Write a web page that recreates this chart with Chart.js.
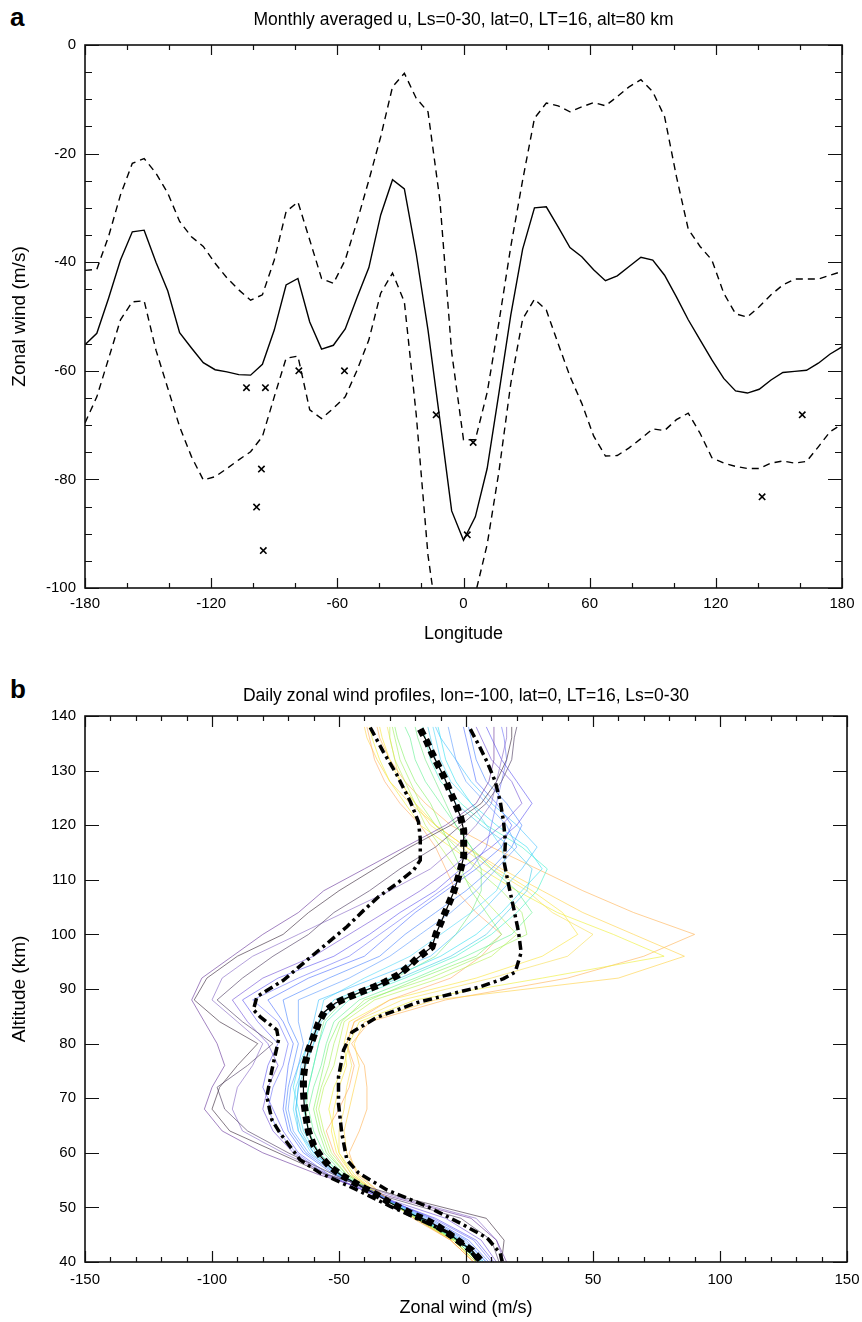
<!DOCTYPE html>
<html><head><meta charset="utf-8">
<script src="https://cdn.jsdelivr.net/npm/chart.js@4.4.1/dist/chart.umd.min.js"></script>
<style>
html,body{margin:0;padding:0;background:#fff;}
body{width:862px;height:1322px;position:relative;overflow:hidden;font-family:"Liberation Sans",Arial,sans-serif;}
.lbl{position:absolute;font-weight:bold;font-size:26px;line-height:26px;color:#000;}
#wa{position:absolute;left:0;top:0;width:862px;height:650px;}
#wb{position:absolute;left:0;top:650px;width:862px;height:672px;}
</style></head><body>
<div class="lbl" style="left:10px;top:4px">a</div>
<div class="lbl" style="left:10px;top:676px">b</div>
<div id="wa"><canvas id="ca"></canvas></div>
<div id="wb"><canvas id="cb"></canvas></div>
<script>
const F = "'Liberation Sans', Arial, sans-serif";

// ---------- Panel a data ----------
const lonA = [-180,-174.375,-168.75,-163.125,-157.5,-151.875,-146.25,-140.625,-135,-129.375,-123.75,-118.125,-112.5,-106.875,-101.25,-95.625,-90,-84.375,-78.75,-73.125,-67.5,-61.875,-56.25,-50.625,-45,-39.375,-33.75,-28.125,-22.5,-16.875,-11.25,-5.625,0,5.625,11.25,16.875,22.5,28.125,33.75,39.375,45,50.625,56.25,61.875,67.5,73.125,78.75,84.375,90,95.625,101.25,106.875,112.5,118.125,123.75,129.375,135,140.625,146.25,151.875,157.5,163.125,168.75,174.375,180];
const meanU = [-55.2,-53.1,-46.6,-39.6,-34.4,-34.1,-40.0,-45.3,-53.0,-55.8,-58.5,-59.8,-60.2,-60.7,-60.8,-58.8,-52.5,-44.2,-43.0,-51.0,-56.0,-55.3,-52.3,-46.5,-41.0,-31.3,-24.8,-26.5,-38.4,-52.5,-69.0,-85.8,-91.2,-86.9,-78.0,-64.0,-49.7,-37.6,-30.0,-29.8,-33.5,-37.3,-39.0,-41.4,-43.4,-42.5,-40.8,-39.1,-39.6,-42.4,-46.4,-50.6,-54.3,-58.0,-61.4,-63.7,-64.1,-63.4,-61.7,-60.3,-60.1,-59.9,-58.6,-56.9,-55.6];
const upperU = [-41.5,-41.3,-35.2,-27.6,-21.8,-20.9,-23.6,-27.3,-32.5,-35.3,-37.1,-40.2,-42.9,-45.1,-47.0,-46.0,-39.6,-30.7,-28.9,-35.9,-43.0,-43.9,-39.6,-32.5,-24.9,-16.9,-7.7,-5.2,-9.8,-12.3,-28.5,-56.6,-72.7,-72.7,-64.0,-51.0,-37.1,-24.9,-13.5,-10.7,-11.2,-12.3,-11.4,-10.6,-11.2,-9.5,-7.7,-6.4,-8.6,-13.2,-24.2,-33.9,-37.1,-39.6,-45.7,-49.5,-50.1,-48.2,-46.0,-44.2,-43.1,-43.1,-43.1,-42.4,-41.7];
const lowerU = [-69.6,-64.8,-57.7,-50.6,-47.3,-47.1,-56.2,-63.2,-70.3,-75.8,-80.1,-79.5,-78.0,-76.4,-74.9,-72.1,-64.8,-57.7,-57.3,-67.2,-68.8,-66.9,-64.8,-59.9,-54.3,-45.7,-42.0,-47.3,-68.0,-94.0,-109.5,-115.0,-109.7,-101.1,-92.0,-78.5,-62.3,-50.5,-46.8,-48.8,-55.0,-61.0,-66.0,-72.0,-75.7,-75.6,-74.2,-72.5,-70.7,-71.0,-69.0,-67.8,-71.5,-76.0,-77.0,-77.6,-78.0,-78.0,-77.0,-76.6,-77.0,-76.7,-74.0,-71.2,-69.8];
const obsLon = [-103.2,-94.2,-78.3,-56.6,-96.1,-98.4,-95.2,-13.0,1.8,4.6,142.0,161.1];
const obsU   = [-63.1,-63.1,-60.0,-60.0,-78.1,-85.1,-93.1,-68.1,-90.2,-73.2,-83.2,-68.1];
const xTicksA = [-180,-120,-60,0,60,120,180];
const yTicksA = [-100,-80,-60,-40,-20,0];

// ---------- Panel b data ----------
const meanWind = [-18.0,-15.4,-13.4,-11.0,-8.4,-6.2,-4.2,-2.2,-0.9,-0.9,-0.9,-2.2,-3.5,-5.1,-7.5,-9.5,-11.7,-13.4,-19.3,-22.6,-26.6,-31.8,-36.6,-41.6,-46.3,-51.5,-55.8,-58.1,-60.0,-62.0,-63.3,-64.0,-64.0,-63.7,-62.9,-62.0,-60.0,-57.1,-53.7,-49.1,-44.5,-40.0,-35.1,-30.5,-25.5,-20.6,-15.6,-11.0,-5.9,-1.6,2.4,5.6];
const meanAlt  = [137.6,135.3,133.2,131.0,128.6,126.1,124.0,121.6,119.1,116.7,114.2,111.8,109.7,107.5,104.8,102.6,100.2,97.7,95.6,94.1,92.6,91.3,90.3,89.4,88.5,87.4,85.8,83.7,81.3,78.8,76.4,73.8,71.3,68.8,66.3,63.9,61.4,59.3,57.5,55.9,54.7,53.5,52.3,51.0,49.8,48.6,47.7,46.5,44.9,43.4,42.1,40.4];
const leftWind = [-37.7,-32.5,-27.2,-21.9,-18.7,-18.0,-18.0,-20.6,-27.2,-34.4,-40.3,-46.9,-54.8,-62.6,-71.9,-82.3,-83.7,-81.0,-74.5,-73.8,-76.4,-78.4,-76.4,-73.2,-65.3,-57.4,-42.9,-29.8,-18.0,-7.5,0.4,4.3];
const leftAlt  = [137.9,133.4,129.2,124.3,120.6,117.5,113.6,111.8,109.3,106.9,104.4,101.4,98.3,95.3,91.6,88.6,86.2,84.9,82.5,80.7,75.2,70.3,66.0,63.6,58.7,56.3,53.2,50.2,47.7,45.5,42.8,40.4];
const rightWind = [1.7,5.0,8.3,11.5,13.5,14.8,15.5,15.1,16.8,18.8,20.7,21.7,19.4,14.8,5.6,-4.9,-19.3,-35.1,-44.9,-48.2,-50.2,-50.2,-48.9,-46.9,-42.3,-31.1,-15.4,-2.2,8.3,13.5,14.2];
const rightAlt  = [137.6,134.7,131.6,128.0,124.3,120.6,117.0,113.0,109.0,104.7,100.4,96.7,93.1,91.9,90.4,89.2,87.5,84.8,82.1,78.8,73.9,69.0,63.6,58.7,56.3,53.2,50.2,47.1,44.4,41.6,40.1];

const altLevels = [40,44,48,52,56,60,64,68,72,76,80,84,88,92,96,100,104,108,112,116,120,124,128,132,136,138];
const prof01 = [14,15,8,-26,-55,-74,-93,-100,-97,-90,-82,-97,-107,-102,-90,-72,-62,-50,-36,-22,-6,6,12,16,18,18];
const prof02 = [16,12,2,-30,-58,-80,-96,-103,-100,-95,-98,-103,-108,-104,-92,-80,-66,-56,-40,-24,-8,4,9,11,11,11];
const prof03 = [13,10,-2,-32,-52,-70,-86,-95,-98,-86,-76,-88,-98,-88,-76,-62,-52,-38,-26,-12,-2,8,14,18,19,20];
const prof04 = [12,6,-8,-34,-56,-68,-76,-80,-78,-74,-78,-86,-92,-80,-60,-46,-32,-18,-6,4,14,22,18,10,6,4];
const prof05 = [11,4,-12,-35,-54,-66,-72,-76,-80,-78,-74,-82,-88,-74,-52,-38,-26,-12,-2,10,20,26,20,14,10,8];
const prof06 = [9,1,-14,-33,-52,-64,-70,-72,-71,-70,-68,-72,-78,-62,-40,-30,-20,-8,4,14,18,12,4,2,0,-1];
const prof07 = [8,-1,-16,-33,-50,-62,-68,-70,-69,-66,-64,-66,-66,-46,-30,-18,-6,4,12,20,16,8,0,-4,-6,-7];
const prof08 = [7,-2,-17,-33,-50,-60,-66,-67,-66,-65,-62,-60,-58,-36,-14,-4,6,14,22,28,20,10,2,-4,-10,-12];
const prof09 = [6,-3,-18,-34,-50,-59,-64,-66,-68,-66,-62,-58,-52,-30,-10,4,14,22,30,24,12,2,-4,-8,-10,-11];
const prof10 = [6,-3,-18,-34,-49,-58,-62,-64,-62,-60,-58,-55,-46,-24,-4,10,20,28,32,22,8,-2,-10,-14,-16,-17];
const prof11 = [5,-4,-19,-34,-48,-56,-60,-62,-60,-57,-55,-52,-42,-20,0,18,26,20,10,2,-4,-10,-16,-20,-22,-24];
const prof12 = [5,-4,-19,-33,-47,-55,-58,-60,-58,-56,-54,-50,-38,-18,4,14,8,2,-2,-6,-10,-14,-20,-24,-27,-28];
const prof13 = [4,-5,-20,-34,-46,-53,-56,-58,-56,-52,-50,-48,-36,-10,10,20,12,4,-4,-10,-16,-20,-24,-28,-30,-30];
const prof14 = [4,-5,-20,-33,-44,-50,-52,-54,-52,-48,-46,-42,-20,30,78,58,36,20,6,-6,-18,-24,-30,-34,-37,-38];
const prof15 = [3,-6,-20,-32,-42,-47,-48,-46,-44,-42,-44,-40,-12,60,86,66,46,30,14,0,-12,-22,-30,-35,-39,-40];
const prof16 = [3,-6,-21,-32,-43,-46,-42,-39,-39,-40,-45,-38,-8,40,70,90,66,46,28,10,-6,-16,-24,-30,-34,-35];
const prof17 = [4,-5,-19,-33,-45,-50,-50,-48,-47,-45,-47,-44,-25,10,40,50,34,24,10,-2,-14,-20,-26,-28,-30,-31];
const prof18 = [3,-6,-20,-33,-46,-52,-55,-50,-46,-44,-47,-44,-30,-6,6,14,4,-4,-8,-12,-18,-26,-32,-36,-38,-39];
const prof19 = [10,3,-13,-34,-55,-67,-74,-78,-76,-72,-70,-74,-84,-66,-46,-34,-22,-10,2,8,10,12,14,16,15,14];
const prof20 = [7,-2,-17,-33,-51,-61,-66,-68,-67,-64,-60,-58,-56,-40,-22,-10,2,12,16,14,8,2,-6,-10,-12,-13];
const prof21 = [5,-4,-18,-34,-49,-58,-62,-63,-62,-60,-58,-56,-48,-28,-12,-4,2,6,6,2,-4,-8,-12,-16,-19,-20];
const prof22 = [15,12,4,-28,-54,-72,-88,-92,-90,-84,-80,-90,-100,-96,-84,-66,-48,-30,-14,-4,4,10,12,14,16,16];
const prof23 = [6,-3,-18,-34,-50,-60,-65,-67,-66,-63,-60,-57,-50,-26,-6,8,16,24,26,18,6,-4,-8,-12,-14,-15];
const prof24 = [5,-4,-19,-33,-47,-54,-57,-59,-57,-54,-52,-49,-40,-14,6,24,22,14,4,-4,-12,-18,-22,-26,-28,-29];
const prof25 = [8,0,-15,-33,-51,-63,-69,-71,-70,-68,-66,-70,-72,-54,-34,-24,-12,0,10,18,22,16,8,4,2,1];
const prof26 = [4,-5,-20,-33,-45,-51,-53,-52,-50,-47,-48,-46,-30,4,30,44,38,26,12,0,-12,-20,-26,-30,-33,-34];
const profiles = [prof01,prof02,prof03,prof22,prof04,prof05,prof19,prof25,prof06,prof07,prof08,prof20,prof23,prof09,prof10,prof21,prof11,prof12,prof24,prof13,prof18,prof17,prof26,prof14,prof15,prof16];
const profColors = ['rgba(80,64,80,0.7)','rgba(112,64,160,0.65)','rgba(96,80,112,0.7)','rgba(140,110,200,0.65)','rgba(122,90,216,0.65)','rgba(90,80,240,0.6)','rgba(106,112,248,0.6)','rgba(70,130,255,0.6)','rgba(74,106,255,0.6)','rgba(90,154,255,0.6)','rgba(64,192,255,0.6)','rgba(80,216,248,0.6)','rgba(60,200,230,0.6)','rgba(48,224,240,0.6)','rgba(64,240,200,0.6)','rgba(112,232,128,0.6)','rgba(96,240,144,0.6)','rgba(128,240,96,0.6)','rgba(160,240,90,0.6)','rgba(184,240,80,0.6)','rgba(255,168,96,0.6)','rgba(248,224,96,0.65)','rgba(250,230,70,0.65)','rgba(240,240,64,0.65)','rgba(255,208,64,0.6)','rgba(255,176,80,0.6)'];
const xTicksB = [-150,-100,-50,0,50,100,150];
const yTicksB = [40,50,60,70,80,90,100,110,120,130,140];

function pairs(xs, ys){ return xs.map((v,i)=>({x:v, y:ys[i]})); }
function range(a,b,s){ const r=[]; for(let v=a; v<=b+1e-9; v+=s) r.push(v); return r; }

const frameTicks = {
  id:'frameTicks',
  afterDatasetsDraw(chart, args, o){
    const {ctx} = chart; const a = chart.chartArea;
    const xs = chart.scales.x, ys = chart.scales.y;
    ctx.save();
    ctx.strokeStyle = '#111'; ctx.lineWidth = 1.2; ctx.setLineDash([]);
    ctx.beginPath();
    const maj = (arr,v)=>arr.some(m=>Math.abs(m-v)<1e-6);
    o.xAll.forEach(v=>{
      const px = Math.round(xs.getPixelForValue(v))+0.5;
      const L = maj(o.xMaj,v)? o.xMajLen : o.xMinLen;
      ctx.moveTo(px, a.bottom); ctx.lineTo(px, a.bottom-L);
      ctx.moveTo(px, a.top); ctx.lineTo(px, a.top+L);
    });
    o.yAll.forEach(v=>{
      const py = Math.round(ys.getPixelForValue(v))+0.5;
      const L = maj(o.yMaj,v)? o.yMajLen : o.yMinLen;
      ctx.moveTo(a.left, py); ctx.lineTo(a.left+L, py);
      ctx.moveTo(a.right, py); ctx.lineTo(a.right-L, py);
    });
    ctx.stroke();
    ctx.lineWidth = 1.6;
    ctx.strokeRect(a.left, a.top, a.right-a.left, a.bottom-a.top);
    ctx.restore();
  }
};

const tickFont = {family:F, size:15};
const titleFont = {family:F, size:19};

new Chart(document.getElementById('ca'), {
  type:'scatter',
  data:{ datasets:[
    {data:pairs(lonA, meanU), showLine:true, borderColor:'#000', borderWidth:1.4, pointRadius:0, clip:0},
    {data:pairs(lonA, upperU), showLine:true, borderColor:'#000', borderWidth:1.4, borderDash:[7,5], pointRadius:0, clip:0},
    {data:pairs(lonA, lowerU), showLine:true, borderColor:'#000', borderWidth:1.4, borderDash:[7,5], pointRadius:0, clip:0},
    {data:pairs(obsLon, obsU), showLine:false, pointStyle:'crossRot', pointRadius:4.5, borderColor:'#000', borderWidth:1.6, backgroundColor:'#000'}
  ]},
  options:{
    responsive:true, maintainAspectRatio:false, animation:false, events:[],
    layout:{padding:{left:0,right:20,top:0,bottom:0}},
    plugins:{ legend:{display:false}, tooltip:{enabled:false},
      title:{display:true, fullSize:false, text:'Monthly averaged u, Ls=0-30, lat=0, LT=16, alt=80 km', color:'#000', font:{family:F,size:17.5,weight:'normal'}, padding:{top:9.5,bottom:14.5}},
      frameTicks:{xAll:range(-180,180,20), xMaj:xTicksA, xMajLen:10, xMinLen:5, yAll:range(-100,0,5), yMaj:yTicksA, yMajLen:14, yMinLen:7}
    },
    scales:{
      x:{type:'linear', min:-180, max:180, afterBuildTicks:s=>{s.ticks=xTicksA.map(v=>({value:v}));},
        grid:{display:false, drawTicks:false}, border:{display:false},
        ticks:{color:'#000', font:tickFont, padding:7, maxRotation:0, autoSkip:false},
        title:{display:true, text:'Longitude', color:'#000', font:{family:F,size:18}, padding:{top:0,bottom:5}},
        afterFit:s=>{s.height=62; s.paddingRight=0;}},
      y:{type:'linear', min:-100, max:0, afterBuildTicks:s=>{s.ticks=yTicksA.map(v=>({value:v}));},
        grid:{display:false, drawTicks:false}, border:{display:false},
        ticks:{color:'#000', font:tickFont, padding:9, autoSkip:false},
        title:{display:true, text:'Zonal wind (m/s)', color:'#000', font:titleFont, padding:{top:8,bottom:0}},
        afterFit:s=>{s.width=85;}}
    }
  },
  plugins:[frameTicks]
});

const dsB = [
  {data:pairs(meanWind, meanAlt), showLine:true, borderColor:'#000', borderWidth:7, borderDash:[7,5], borderCapStyle:'butt', pointRadius:0, order:0, clip:0},
  {data:pairs(meanWind, meanAlt), showLine:true, borderColor:'#000', borderWidth:1.2, pointRadius:0, order:1, clip:0},
  {data:pairs(leftWind, leftAlt), showLine:true, borderColor:'#000', borderWidth:3.5, borderDash:[9,4,3,4], pointRadius:0, order:1, clip:0},
  {data:pairs(rightWind, rightAlt), showLine:true, borderColor:'#000', borderWidth:3.5, borderDash:[9,4,3,4], pointRadius:0, order:1, clip:0}
];
profiles.forEach((p,i)=>{
  dsB.push({data:pairs(p, altLevels), showLine:true, borderColor:profColors[i], borderWidth:1, pointRadius:0, order:2, clip:0});
});

new Chart(document.getElementById('cb'), {
  type:'scatter',
  data:{datasets:dsB},
  options:{
    responsive:true, maintainAspectRatio:false, animation:false, events:[],
    layout:{padding:{left:0,right:15,top:0,bottom:0}},
    plugins:{ legend:{display:false}, tooltip:{enabled:false},
      title:{display:true, fullSize:false, text:'Daily zonal wind profiles, lon=-100, lat=0, LT=16, Ls=0-30', color:'#000', font:{family:F,size:17.5,weight:'normal'}, padding:{top:36,bottom:9}},
      frameTicks:{xAll:range(-150,150,10), xMaj:xTicksB, xMajLen:11, xMinLen:5, yAll:yTicksB, yMaj:yTicksB, yMajLen:14, yMinLen:7}
    },
    scales:{
      x:{type:'linear', min:-150, max:150, afterBuildTicks:s=>{s.ticks=xTicksB.map(v=>({value:v}));},
        grid:{display:false, drawTicks:false}, border:{display:false},
        ticks:{color:'#000', font:tickFont, padding:9, maxRotation:0, autoSkip:false},
        title:{display:true, text:'Zonal wind (m/s)', color:'#000', font:{family:F,size:18}, padding:{top:0,bottom:3}},
        afterFit:s=>{s.height=60; s.paddingRight=0;}},
      y:{type:'linear', min:40, max:140, afterBuildTicks:s=>{s.ticks=yTicksB.map(v=>({value:v}));},
        grid:{display:false, drawTicks:false}, border:{display:false},
        ticks:{color:'#000', font:tickFont, padding:9, autoSkip:false},
        title:{display:true, text:'Altitude (km)', color:'#000', font:titleFont, padding:{top:8,bottom:0}},
        afterFit:s=>{s.width=85;}}
    }
  },
  plugins:[frameTicks]
});
</script>
</body></html>
